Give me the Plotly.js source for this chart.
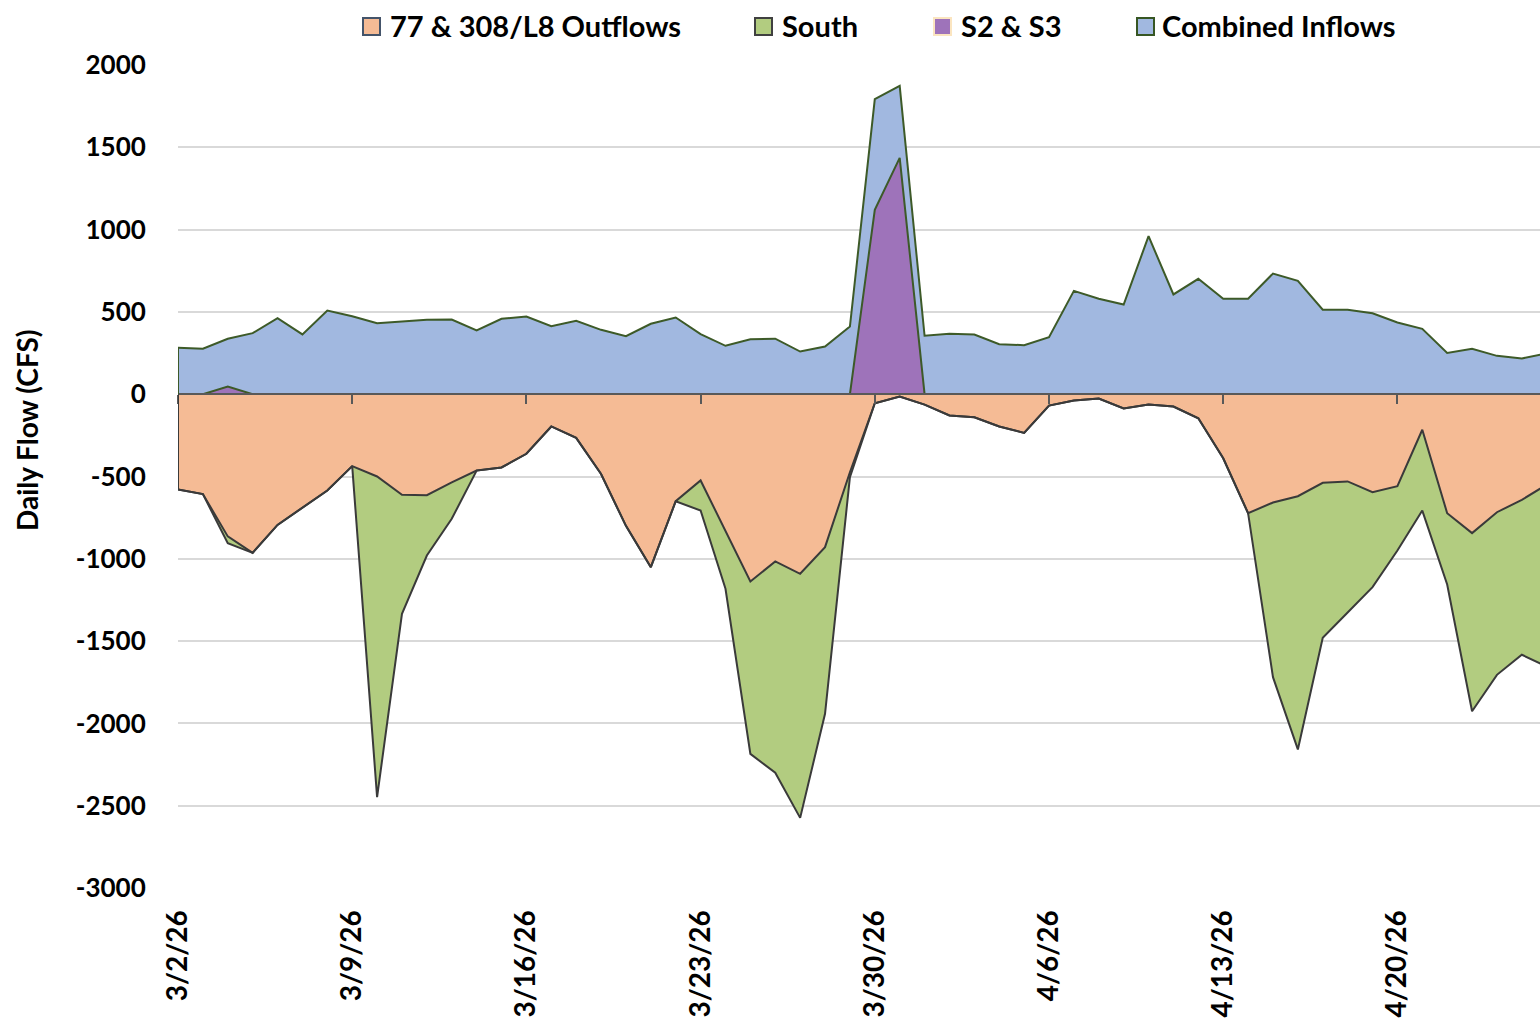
<!DOCTYPE html>
<html>
<head>
<meta charset="utf-8">
<script src="https://cdn.plot.ly/plotly-3.0.1.min.js"></script>
<style>
  html, body { margin: 0; padding: 0; background: #ffffff; }
  #chart { width: 1540px; height: 1021px; }
</style>
</head>
<body>
<div id="chart"></div>
<script>
// ---- Data ----
const dates = [
  '2026-03-02','2026-03-03','2026-03-04','2026-03-05','2026-03-06','2026-03-07','2026-03-08',
  '2026-03-09','2026-03-10','2026-03-11','2026-03-12','2026-03-13','2026-03-14','2026-03-15',
  '2026-03-16','2026-03-17','2026-03-18','2026-03-19','2026-03-20','2026-03-21','2026-03-22',
  '2026-03-23','2026-03-24','2026-03-25','2026-03-26','2026-03-27','2026-03-28','2026-03-29',
  '2026-03-30','2026-03-31','2026-04-01','2026-04-02','2026-04-03','2026-04-04','2026-04-05',
  '2026-04-06','2026-04-07','2026-04-08','2026-04-09','2026-04-10','2026-04-11','2026-04-12',
  '2026-04-13','2026-04-14','2026-04-15','2026-04-16','2026-04-17','2026-04-18','2026-04-19',
  '2026-04-20','2026-04-21','2026-04-22','2026-04-23','2026-04-24','2026-04-25','2026-04-26'
];

// 77 & 308/L8 Outflows (negative, from zero)
const outflows = [
  -579,-607,-864,-964,-794,-688,-585,
  -437,-500,-611,-614,-536,-464,-445,
  -362,-196,-265,-485,-800,-1051,-650,
  -524,-830,-1138,-1016,-1091,-929,-474,
  -55,-14,-63,-129,-140,-196,-235,
  -69,-38,-26,-87,-63,-75,-146,
  -389,-723,-658,-620,-538,-530,-595,
  -559,-216,-723,-844,-717,-642,-549
];

// South (negative, stacked below the outflows)
const south = [
  0,0,-41,0,0,0,0,
  0,-1948,-723,-366,-221,0,0,
  0,0,0,0,0,0,0,
  -183,-352,-1047,-1284,-1483,-1013,-30,
  0,0,0,0,0,0,0,
  0,0,0,0,0,0,0,
  0,0,-1061,-1538,-942,-796,-577,
  -391,-491,-433,-1082,-988,-941,-1105
];

// S2 & S3 (positive, from zero)
const s2s3 = [
  0,0,47,0,0,0,0,
  0,0,0,0,0,0,0,
  0,0,0,0,0,0,0,
  0,0,0,0,0,0,0,
  1120,1436,0,0,0,0,0,
  0,0,0,0,0,0,0,
  0,0,0,0,0,0,0,
  0,0,0,0,0,0,0
];

// Combined Inflows (positive, stacked above S2 & S3)
const inflows = [
  282,276,290,371,462,363,508,
  474,431,440,452,454,387,458,
  472,413,446,391,352,428,466,
  365,294,334,337,259,290,411,
  672,437,355,367,363,304,298,
  346,628,580,545,960,606,701,
  580,580,733,689,513,513,492,
  436,397,251,276,233,217,248
];

const yTicks = [-3000,-2500,-2000,-1500,-1000,-500,0,500,1000,1500,2000];
const seriesNames = ['77 & 308/L8 Outflows','South','S2 & S3','Combined Inflows'];
const xTickFormat = '%-m/%-d/%y';
const xRangeEnd = '2026-04-25 17:31';

// ---- Styles ----
const FONT = 'Lato, "Open Sans", "Liberation Sans", sans-serif';
const C = {
  orange: '#f5bb95', green: '#b2cc80', purple: '#9e73ba', blue: '#a1b8e0',
  posLine: '#3d5a28', negLine: '#3a3a3a', axis: '#595959', grid: '#d9d9d9'
};
const M = {l: 178, r: 0, t: 65, b: 133};
const W = 1540, H = 1021;
const PW = W - M.l - M.r, PH = H - M.t - M.b;
const px2x = px => (px - M.l) / PW;
const py2y = py => (H - M.b - py) / PH;
const yRange = [yTicks[0], yTicks[yTicks.length - 1]];
const zeroPos = (0 - yRange[0]) / (yRange[1] - yRange[0]);

const traces = [
  {
    name: seriesNames[2], x: dates, y: s2s3, type: 'scatter', mode: 'lines',
    stackgroup: 'pos', fillcolor: C.purple, line: {color: C.posLine, width: 2},
    xaxis: 'x', yaxis: 'y', showlegend: false
  },
  {
    name: seriesNames[3], x: dates, y: inflows, type: 'scatter', mode: 'lines',
    stackgroup: 'pos', fillcolor: C.blue, line: {color: C.posLine, width: 2},
    xaxis: 'x', yaxis: 'y', showlegend: false
  },
  {
    name: seriesNames[0], x: dates, y: outflows, type: 'scatter', mode: 'lines',
    stackgroup: 'neg', fillcolor: C.orange, line: {color: C.negLine, width: 2},
    xaxis: 'x2', yaxis: 'y', showlegend: false
  },
  {
    name: seriesNames[1], x: dates, y: south, type: 'scatter', mode: 'lines',
    stackgroup: 'neg', fillcolor: C.green, line: {color: C.negLine, width: 2},
    xaxis: 'x2', yaxis: 'y', showlegend: false
  }
];

// Legend drawn with shapes + text, placed like the reference
const legendItems = [
  {name: seriesNames[0], fill: C.orange, border: '#44546a', box: 363, text: 388},
  {name: seriesNames[1], fill: C.green,  border: '#404040', box: 755, text: 780},
  {name: seriesNames[2], fill: C.purple, border: '#fbe5c0', box: 934, text: 959},
  {name: seriesNames[3], fill: C.blue,   border: '#375623', box: 1137, text: 1160}
];

const shapes = [
  // left closing edges of the area outlines
  {type: 'line', xref: 'x', yref: 'y', x0: dates[0], x1: dates[0], y0: 0,
   y1: s2s3[0] + inflows[0], line: {color: C.posLine, width: 2}},
  {type: 'line', xref: 'x', yref: 'y', x0: dates[0], x1: dates[0], y0: 0,
   y1: outflows[0] + south[0], line: {color: C.negLine, width: 2}}
];
const annotations = [
  {text: '<b>Daily Flow (CFS)</b>', xref: 'paper', yref: 'paper',
   x: px2x(27), y: py2y(430), textangle: -90, showarrow: false,
   xanchor: 'center', yanchor: 'middle',
   font: {family: FONT, size: 28, color: '#000'}}
];
legendItems.forEach(it => {
  shapes.push({type: 'rect', xref: 'paper', yref: 'paper',
    x0: px2x(it.box), x1: px2x(it.box + 17), y0: py2y(35), y1: py2y(18),
    fillcolor: it.fill, line: {color: it.border, width: 2}});
  annotations.push({text: '<b>' + it.name.replace(/&/g, '&amp;') + '</b>',
    xref: 'paper', yref: 'paper', x: px2x(it.text), y: py2y(25),
    xanchor: 'left', yanchor: 'middle', showarrow: false,
    font: {family: FONT, size: 29, color: '#000'}});
});

const layout = {
  width: W, height: H,
  margin: M,
  paper_bgcolor: '#ffffff', plot_bgcolor: '#ffffff',
  showlegend: false,
  xaxis: {
    type: 'date', range: [dates[0], xRangeEnd], tick0: dates[0], dtick: 7 * 86400000,
    tickformat: xTickFormat, tickangle: -90,
    ticks: 'outside', ticklen: 10, tickcolor: 'rgba(0,0,0,0)',
    showgrid: false, showline: false, zeroline: false,
    tickfont: {family: FONT, size: 28, color: '#000', weight: 700}
  },
  xaxis2: {
    type: 'date', overlaying: 'x', anchor: 'free', position: zeroPos,
    range: [dates[0], xRangeEnd], tick0: dates[0], dtick: 7 * 86400000,
    showticklabels: false, ticks: 'outside', ticklen: 9, tickwidth: 2, tickcolor: C.axis,
    showline: true, linecolor: C.axis, linewidth: 2, showgrid: false, zeroline: false,
    layer: 'above traces'
  },
  yaxis: {
    range: yRange, tickvals: yTicks, ticktext: yTicks.map(String),
    showgrid: true, gridcolor: C.grid, gridwidth: 2, zeroline: false, showline: false,
    ticks: 'outside', ticklen: 26, tickcolor: 'rgba(0,0,0,0)',
    tickfont: {family: FONT, size: 26, color: '#000', weight: 700}
  },
  shapes: shapes,
  annotations: annotations
};

Plotly.newPlot('chart', traces, layout, {staticPlot: true, displayModeBar: false});
</script>
</body>
</html>
